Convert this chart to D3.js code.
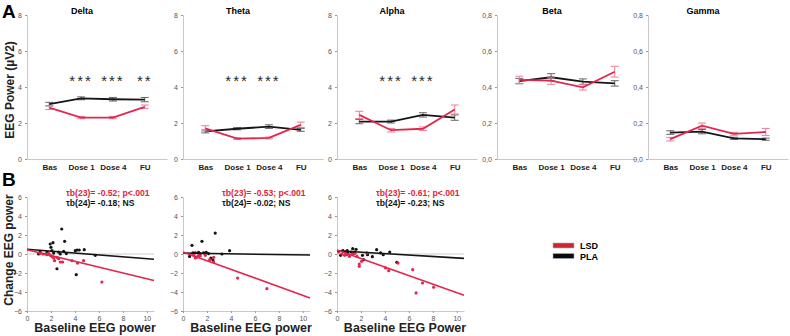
<!DOCTYPE html>
<html>
<head>
<meta charset="utf-8">
<script src="https://cdn.jsdelivr.net/npm/d3@7"></script>
<style>
  body { margin: 0; background: #fff; }
  svg { font-family: "Liberation Sans", Arial, sans-serif; }
</style>
</head>
<body>
<svg id="chart"></svg>
<script>
// ---- data ----
const categories = ["Bas", "Dose 1", "Dose 4", "FU"];
const bands = ["Delta", "Theta", "Alpha", "Beta", "Gamma"];
const bandMax = [8, 8, 8, 0.8, 0.8];

const lsdMeans = [
    [2.85, 2.3, 2.3, 2.9],
    [1.7, 1.13, 1.17, 1.9],
    [2.45, 1.6, 1.68, 2.75],
    [0.44, 0.435, 0.398, 0.485],
    [0.11, 0.185, 0.14, 0.15]
];
const lsdErr = [
    [0.1, 0.06, 0.06, 0.1],
    [0.15, 0.05, 0.05, 0.15],
    [0.2, 0.1, 0.1, 0.25],
    [0.02, 0.02, 0.015, 0.03],
    [0.01, 0.015, 0.008, 0.02]
];
const plaMeans = [
    [3.05, 3.37, 3.32, 3.3],
    [1.53, 1.68, 1.8, 1.62],
    [2.08, 2.08, 2.45, 2.3],
    [0.433, 0.454, 0.43, 0.42],
    [0.147, 0.152, 0.115, 0.11]
];
const plaErr = [
    [0.1, 0.08, 0.1, 0.12],
    [0.08, 0.06, 0.1, 0.08],
    [0.12, 0.08, 0.12, 0.15],
    [0.015, 0.02, 0.015, 0.015],
    [0.01, 0.012, 0.006, 0.006]
];
const stars = [
    ["", "***", "***", "**"],
    ["", "***", "***", ""],
    ["", "***", "***", ""],
    ["", "", "", ""],
    ["", "", "", ""]
];

// scatter: [baseline, change]
const deltaPLA = [[2.9, 2.63], [1.94, 1.05], [2.17, 1.19], [2.0, 0.7], [3.14, 1.33], [0.97, 0], [1.1, 0.21],
    [1.67, 0.2], [2.08, 0.35], [2.22, 0.1], [2.64, 0.2], [3.06, 0.28], [3.28, 0.04], [4.03, 0.35], [4.17, 0.42],
    [4.36, 0.42], [4.78, 0.46], [5.7, -0.14], [2.5, -1.55], [4.11, -2.18], [2.78, 0.0]];
const deltaLSD = [[1.1, 0.07], [1.33, 0.0], [1.53, 0.0], [1.67, -0.07], [1.8, 0.07], [1.94, -0.14], [2.08, -0.25],
    [2.22, -0.42], [2.3, -0.7], [2.5, -0.35], [2.64, -0.49], [2.78, -0.84], [2.97, -0.84], [3.75, -0.7],
    [4.22, -0.95], [4.72, -0.7], [6.25, -2.95]];
const thetaPLA = [[2.69, 2.2], [1.58, 1.33], [0.75, 0.91], [0.55, -0.25], [0.83, 0.12], [1.03, 0.12], [1.3, 0.18],
    [1.72, 0.12], [1.94, 0.18], [2.14, 0.04], [2.33, -0.42], [2.5, -0.63], [3.25, 0.0], [3.89, 0.35], [1.44, 0.04]];
const thetaLSD = [[0.89, -0.14], [1.03, -0.42], [1.17, -0.32], [1.3, -0.14], [1.44, -0.2], [1.86, -0.14],
    [2.22, -0.6], [2.56, -0.35], [2.56, -0.84], [4.56, -2.53], [7.0, -3.65]];
const alphaPLA = [[0.3, -0.14], [0.49, 0.35], [0.68, 0.21], [0.85, 0.35], [0.9, 0.11], [1.31, 0.56], [1.18, 0.21],
    [1.45, 0.21], [1.59, 0.49], [2.13, -0.14], [2.22, -0.6], [2.95, -0.28], [3.31, 0.46], [3.64, 0.11],
    [3.86, -0.07], [4.4, 0.21], [5.0, -0.88], [2.55, -0.07]];
const alphaLSD = [[0.14, 0.21], [0.41, 0.0], [0.63, -0.14], [0.85, -0.07], [1.04, -0.25], [1.31, 0], [1.5, 0.07],
    [1.67, -0.25], [1.86, -1.05], [1.86, -1.3], [2.05, -0.77], [2.49, 0.11], [4.05, -1.47], [4.32, -1.75],
    [5.09, -0.95], [6.32, -1.65], [7.14, -3.05], [8.07, -3.5], [6.6, -4.1]];

// regression lines: [intercept, slope]
const lsdFits = [[0.45, -0.305], [0.2, -0.455], [0.42, -0.45]];
const plaFits = [[0.5, -0.1], [0.1, -0.02], [0.35, -0.076]];
const lsdTau = ["τb(23)= -0.52; p<.001", "τb(23)= -0.53; p<.001", "τb(23)= -0.61; p<.001"];
const plaTau = ["τb(24)= -0.18; NS", "τb(24)= -0.02; NS", "τb(24)= -0.23; NS"];
const xLabels = ["Baseline EEG power", "Baseline EEG power", "Baseline EEG Power"];

const RED = "#e3264d", RED_ERR = "#ef7d97", BLACK = "#151515", BLACK_ERR = "#666";

const width = 790, height = 336;
const svg = d3.select("#chart").attr("width", width).attr("height", height);

// ---- panel A ----
const topX = [27, 183, 337, 497, 648];
const topW = 140;

svg.append("text").attr("x", 2).attr("y", 18)
    .attr("font-size", 19).attr("font-weight", "bold").text("A");

svg.append("text")
    .attr("transform", "translate(14, 90) rotate(-90)")
    .attr("text-anchor", "middle").attr("font-size", 12).attr("font-weight", "bold")
    .attr("fill", "#222").text("EEG Power (µV2)");

bands.forEach((band, i) => {
    const g = svg.append("g").attr("transform", `translate(${topX[i]}, 0)`);
    const x = d3.scalePoint().domain(categories).range([0, topW]).padding(0.7);
    const y = d3.scaleLinear().domain([0, bandMax[i]]).range([159, 15]);
    const fmt = bandMax[i] < 1 ? (d => d3.format(".1f")(d).replace(".", ",")) : d3.format("d");

    const yAxis = g.append("g")
        .call(d3.axisLeft(y).tickValues(d3.range(0, bandMax[i] + 1e-9, bandMax[i] / 4)).tickFormat(fmt).tickSize(2));
    yAxis.select(".domain").attr("stroke", "#c8c8c8");
    yAxis.selectAll(".tick line").attr("stroke", "#999");
    yAxis.selectAll("text").attr("font-size", 7).attr("fill", "#555").attr("font-family", "Liberation Sans");

    const xAxis = g.append("g").attr("transform", "translate(0,159)")
        .call(d3.axisBottom(x).tickSize(0).tickPadding(5));
    xAxis.select(".domain").attr("stroke", "#c8c8c8");
    xAxis.selectAll("text").attr("font-size", 8).attr("font-weight", "bold").attr("fill", "#222")
        .attr("font-family", "Liberation Sans");

    g.append("text").attr("x", x("Dose 1") + 1).attr("y", 14)
        .attr("text-anchor", "middle").attr("font-size", 9).attr("font-weight", "bold").text(band);

    const series = [
        { m: plaMeans[i], e: plaErr[i], c: BLACK, ec: BLACK_ERR },
        { m: lsdMeans[i], e: lsdErr[i], c: RED, ec: RED_ERR }
    ];
    series.forEach(s => {
        const eg = g.append("g").attr("stroke", s.ec).attr("stroke-width", 1);
        categories.forEach((c, j) => {
            const cx = x(c), lo = y(s.m[j] - s.e[j]), hi = y(s.m[j] + s.e[j]);
            eg.append("line").attr("x1", cx).attr("x2", cx).attr("y1", lo).attr("y2", hi);
            eg.append("line").attr("x1", cx - 4).attr("x2", cx + 4).attr("y1", lo).attr("y2", lo);
            eg.append("line").attr("x1", cx - 4).attr("x2", cx + 4).attr("y1", hi).attr("y2", hi);
        });
        g.append("path")
            .datum(s.m)
            .attr("fill", "none").attr("stroke", s.c).attr("stroke-width", 1.8)
            .attr("d", d3.line().x((d, j) => x(categories[j])).y(d => y(d)));
    });

    g.selectAll(".star").data(stars[i]).join("text")
        .attr("x", (d, j) => x(categories[j]))
        .attr("y", y(4.5 * bandMax[i] / 8) + 8)
        .attr("text-anchor", "middle").attr("font-size", 15).attr("letter-spacing", 2)
        .attr("fill", "#2a2a2a").text(d => d);
});

// ---- panel B ----
const botX = [27, 183, 337];
const scatterPLA = [deltaPLA, thetaPLA, alphaPLA];
const scatterLSD = [deltaLSD, thetaLSD, alphaLSD];

svg.append("text").attr("x", 2).attr("y", 186)
    .attr("font-size", 19).attr("font-weight", "bold").text("B");

svg.append("text")
    .attr("transform", "translate(13, 250) rotate(-90)")
    .attr("text-anchor", "middle").attr("font-size", 12).attr("font-weight", "bold")
    .attr("fill", "#222").text("Change EEG power");

botX.forEach((ox, i) => {
    const g = svg.append("g").attr("transform", `translate(${ox}, 0)`);
    const x = d3.scaleLinear().domain([0, 10.6]).range([0, 127]);
    const y = d3.scaleLinear().domain([-6, 6]).range([311, 197]);

    g.append("line").attr("x1", 0).attr("x2", x(10.6)).attr("y1", y(0)).attr("y2", y(0))
        .attr("stroke", "#ccc").attr("stroke-width", 1);

    const yAxis = g.append("g")
        .call(d3.axisLeft(y).tickValues([-6, -4, -2, 0, 2, 4, 6]).tickSize(2));
    yAxis.select(".domain").attr("stroke", "#c8c8c8");
    yAxis.selectAll(".tick line").attr("stroke", "#999");
    yAxis.selectAll("text").attr("font-size", 7).attr("fill", "#555").attr("font-family", "Liberation Sans");

    const xAxis = g.append("g").attr("transform", "translate(0,311)")
        .call(d3.axisBottom(x).tickValues([0, 2, 4, 6, 8, 10]).tickSize(2).tickSizeOuter(0));
    xAxis.select(".domain").attr("stroke", "#c8c8c8");
    xAxis.selectAll(".tick line").attr("stroke", "#999");
    xAxis.selectAll("text").attr("font-size", 7).attr("fill", "#555").attr("font-family", "Liberation Sans");

    const fitLine = f => d3.line().x(d => x(d)).y(d => y(f[0] + f[1] * d))([0, 10.6]);

    g.selectAll(".pla").data(scatterPLA[i]).join("circle")
        .attr("cx", d => x(d[0])).attr("cy", d => y(d[1])).attr("r", 1.6).attr("fill", BLACK);
    g.selectAll(".lsd").data(scatterLSD[i]).join("circle")
        .attr("cx", d => x(d[0])).attr("cy", d => y(d[1])).attr("r", 1.6).attr("fill", RED);

    g.append("path").attr("d", fitLine(plaFits[i])).attr("stroke", BLACK).attr("stroke-width", 1.6).attr("fill", "none");
    g.append("path").attr("d", fitLine(lsdFits[i])).attr("stroke", RED).attr("stroke-width", 1.6).attr("fill", "none");

    g.append("text").attr("x", 39).attr("y", 196).attr("font-size", 8.6).attr("font-weight", "bold")
        .attr("fill", "#e0253a").text(lsdTau[i]);
    g.append("text").attr("x", 39).attr("y", 206).attr("font-size", 8.6).attr("font-weight", "bold")
        .attr("fill", "#111").text(plaTau[i]);

    g.append("text").attr("x", 68).attr("y", 332).attr("text-anchor", "middle")
        .attr("font-size", 12.5).attr("font-weight", "bold").attr("fill", "#222").text(xLabels[i]);
});

// ---- legend ----
const legendItems = [["LSD", "#d0262b"], ["PLA", "#0a0a0a"]];
const legend = svg.append("g").attr("transform", "translate(553, 243)");
legendItems.forEach(([name, col], k) => {
    legend.append("rect").attr("x", 0).attr("y", k * 10.5).attr("width", 21).attr("height", 5)
        .attr("fill", col).attr("stroke", "#9fb3c8").attr("stroke-width", 0.6);
    legend.append("text").attr("x", 27).attr("y", k * 10.5 + 6).attr("font-size", 9)
        .attr("font-weight", "bold").text(name);
});
</script>
</body>
</html>
